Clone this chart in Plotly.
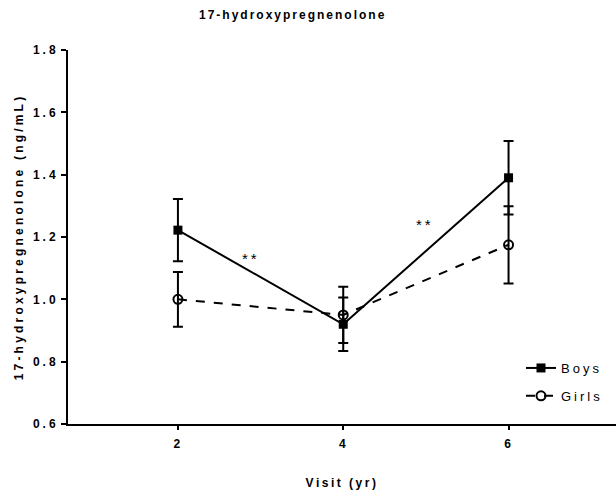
import plotly.graph_objects as go

visits = [2, 4, 6]
boys = [1.222, 0.92, 1.39]
boys_err = [0.10, 0.086, 0.118]
girls = [1.0, 0.95, 1.175]
girls_err = [0.088, 0.09, 0.124]
x_ticks = [2, 4, 6]
y_ticks = [0.6, 0.8, 1.0, 1.2, 1.4, 1.6, 1.8]
y_tick_labels = ["0.6", "0.8", "1.0", "1.2", "1.4", "1.6", "1.8"]
sig_x = [2.89, 4.99]
sig_y = [1.13, 1.24]
sig_text = ["**", "**"]

FONT = "Liberation Sans"


def sp(text, px, bold=False):
    s = f'<span style="letter-spacing:{px}px">{text}</span>'
    return f"<b>{s}</b>" if bold else s


fig = go.Figure()
fig.add_trace(go.Scatter(
    x=visits, y=boys, name=sp("Boys", 3), mode="lines+markers", legendgroup="boys",
    line=dict(color="black", width=2, dash="solid"),
    marker=dict(symbol="square", size=9, color="black"),
    error_y=dict(type="data", array=boys_err, color="black", thickness=2, width=5),
))
fig.add_trace(go.Scatter(
    x=visits, y=girls, name=sp("Girls", 3), mode="lines+markers", legendgroup="girls",
    line=dict(color="black", width=2, dash="dash"),
    marker=dict(symbol="circle-open", size=9, color="black", line=dict(width=2, color="black")),
    error_y=dict(type="data", array=girls_err, color="black", thickness=2, width=5),
))

for sx, sy, st in zip(sig_x, sig_y, sig_text):
    fig.add_annotation(x=sx, y=sy, text=sp(st, 3), showarrow=False,
                       font=dict(family=FONT, size=15, color="black"))

fig.add_annotation(x=(292 - 68) / 548, y=1 + (50 - 15) / 374, xref="paper", yref="paper",
                   text=sp("17-hydroxypregnenolone", 2, bold=True),
                   showarrow=False, xanchor="center", yanchor="middle",
                   font=dict(family=FONT, size=12, color="black"))

fig.update_layout(
    width=616, height=495,
    margin=dict(l=68, r=0, t=50, b=71),
    paper_bgcolor="white", plot_bgcolor="white",
    font=dict(family=FONT, color="black"),
    showlegend=True,
    legend=dict(x=(521 - 68) / 548, y=(424 - 353) / 374, xanchor="left", yanchor="top",
                font=dict(family=FONT, size=13, color="black"), itemwidth=30,
                traceorder="grouped", tracegroupgap=8,
                bgcolor="rgba(0,0,0,0)"),
    xaxis=dict(range=[0.67, 7.3], tickvals=x_ticks, ticktext=[sp(str(v), 2, bold=True) for v in x_ticks],
               showgrid=False, zeroline=False, showline=True, linecolor="black", linewidth=2,
               ticks="outside", ticklen=4, tickwidth=2, tickcolor="black", ticklabelstandoff=4,
               tickfont=dict(family=FONT, size=12, color="black"),
               title=dict(text=sp("Visit (yr)", 2.5, bold=True), font=dict(family=FONT, size=12, color="black"), standoff=28)),
    yaxis=dict(range=[0.6, 1.8], tickvals=y_ticks, ticktext=[sp(t, 3, bold=True) for t in y_tick_labels],
               showgrid=False, zeroline=False, showline=True, linecolor="black", linewidth=2,
               ticks="outside", ticklen=5, tickwidth=2, tickcolor="black",
               tickfont=dict(family=FONT, size=12, color="black"),
               title=dict(text=sp("17-hydroxypregnenolone (ng/mL)", 3.2, bold=True), font=dict(family=FONT, size=12, color="black"), standoff=7)),
)

fig.write_html("out.html")
